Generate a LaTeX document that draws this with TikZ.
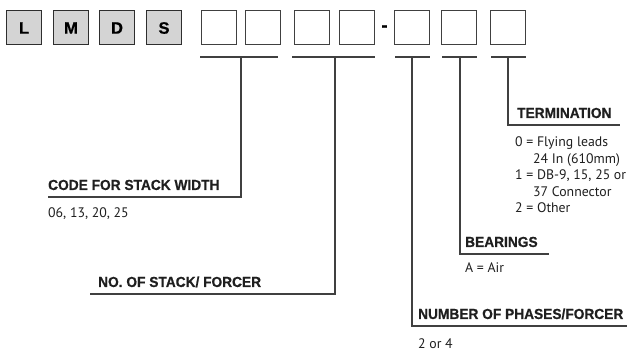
\documentclass[tikz,border=0pt]{standalone}
\usepackage{fontspec}
\setmainfont{PT Sans}
\newfontfamily\headfont[FakeStretch=0.94,FakeBold=0.6]{Liberation Sans}
\newfontfamily\keyfont[FakeBold=0.8]{Liberation Sans}
\begin{document}
\begin{tikzpicture}[x=1pt,y=-1pt,
  codebox/.style={draw=black!75,line width=1pt,minimum width=35pt,minimum height=34pt,inner sep=0pt},
  fixedbox/.style={codebox,fill=black!17,draw=black!82,font=\keyfont\bfseries\fontsize{16.5}{16.5}\selectfont},
  rule/.style={draw=black!75,line width=1.1pt},
  head/.style={anchor=base west,inner sep=0pt,font=\headfont\bfseries\fontsize{14.6}{15}\selectfont,text=black!88},
  body/.style={anchor=base west,inner sep=0pt,font=\fontsize{13.8}{17}\selectfont,text=black!88}]
\useasboundingbox (0,0) rectangle (627,352);

% fixed prefix
\node[fixedbox] (cL) at (24,28) {L};
\node[fixedbox] (cM) at (71,28) {M};
\node[fixedbox] (cD) at (117,28) {D};
\node[fixedbox] (cS) at (164,28) {S};

% open code fields
\node[codebox] (f1) at (219,28) {};
\node[codebox] (f2) at (262.5,28) {};
\node[codebox] (f3) at (312,28) {};
\node[codebox] (f4) at (357,28) {};
\node[font=\keyfont\bfseries\fontsize{19}{19}\selectfont,inner sep=0pt] (dash) at (384.5,28.5) {-};
\node[codebox] (f5) at (412,28) {};
\node[codebox] (f6) at (459,28) {};
\node[codebox] (f7) at (507.5,28) {};

% brackets under the fields
\coordinate (t1) at (241,57);
\coordinate (t2) at (335,57);
\coordinate (t3) at (412,57);
\coordinate (t4) at (460,57);
\coordinate (t5) at (508,57);
\draw[rule] (200,57) -- (278,57);
\draw[rule] (292,57) -- (375,57);
\draw[rule] (395,57) -- (430,57);
\draw[rule] (442,57) -- (477,57);
\draw[rule] (491,57) -- (526,57);

% leader corners
\coordinate (e1) at (241,197);
\coordinate (e2) at (335,294);
\coordinate (e3) at (412,326);
\coordinate (e4) at (460,254);
\coordinate (e5) at (508,125);
\coordinate (l1) at (48,197);
\coordinate (l2) at (90,294);
\coordinate (l3) at (627,326);
\coordinate (l4) at (549,254);
\coordinate (l5) at (620,125);
\draw[rule] (t1) -- (e1) -- (l1);
\draw[rule] (t2) -- (e2) -- (l2);
\draw[rule] (t3) -- (e3) -- (l3);
\draw[rule] (t4) -- (e4) -- (l4);
\draw[rule] (t5) -- (e5) -- (l5);

% headings
\node[head] (h1) at (48,190) {CODE FOR STACK WIDTH};
\node[head] (h2) at (98,287) {NO. OF STACK/ FORCER};
\node[head] (h3) at (418,319) {NUMBER OF PHASES/FORCER};
\node[head] (h4) at (465,247) {BEARINGS};
\node[head] (h5) at (517,118) {TERMINATION};

% option lists
\node[body] (v1) at (48,218) {06, 13, 20, 25};
\node[body] (v3) at (418,348.5) {2 or 4};
\node[body] (v4) at (465,273) {A = Air};
\node[body] (v5a) at (515,147) {0 = Flying leads};
\node[body] (v5b) at (533,163.5) {24 In (610mm)};
\node[body] (v5c) at (515,180) {1 = DB-9, 15, 25 or};
\node[body] (v5d) at (533,196.5) {37 Connector};
\node[body] (v5e) at (515,213) {2 = Other};
\end{tikzpicture}
\end{document}
